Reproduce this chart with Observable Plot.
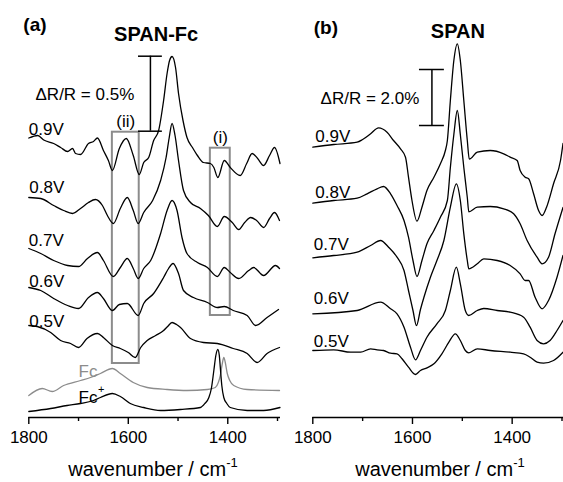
<!DOCTYPE html>
<html><head><meta charset="utf-8">
<script src="https://cdn.jsdelivr.net/npm/d3@7"></script>
<script src="https://cdn.jsdelivr.net/npm/@observablehq/plot@0.6"></script>
<style>
body{margin:0;background:#fff;font-family:"Liberation Sans",Arial,Helvetica,sans-serif;}
#wrap{position:relative;width:563px;height:482px;overflow:hidden;}
.panel{position:absolute;top:0;}
.xlabel{position:absolute;top:459px;width:300px;font-size:20px;line-height:20px;text-align:center;white-space:nowrap;color:#000;}
.xlabel span{position:relative;top:-9px;font-size:13px;}
</style></head><body>
<div id="wrap">
  <div id="pa" class="panel" style="left:0"></div>
  <div id="pb" class="panel" style="left:284px"></div>
  <div class="xlabel" style="left:3px">wavenumber / cm<span>-1</span></div>
  <div class="xlabel" style="left:290px">wavenumber / cm<span>-1</span></div>
</div>
<script>
// ---------- data (x: wavenumber / cm-1, y: stacked reflectance change, a.u.) ----------
const majorTicks = [1800, 1600, 1400];
const minorTicks = [1700, 1500, 1300];

// Panel (a) SPAN-Fc, 150 a.u. = 1 % dR/R
const a09 = [[1800,279.5],[1782,282],[1770,277.5],[1750,274],[1736,270],[1722,266],[1712,269],[1706,264],[1696,263],[1680,274],[1670,276],[1662,279.5],[1650,267],[1640,257],[1632,247],[1618,269],[1604,279],[1590,262],[1578,243],[1569,255],[1559,260],[1549,277],[1539,287],[1529,317],[1522,344],[1517,357],[1512,361],[1505,350],[1499,324],[1490,297],[1482,280],[1471,270],[1461,262],[1449,255],[1435,254],[1428,250],[1420,240],[1407,257],[1395,250],[1375,242],[1362,254],[1351,264],[1340,259],[1328,252],[1316,262],[1306,270],[1295,254]];
const a08 = [[1800,220],[1776,219],[1750,212],[1730,207],[1712,204],[1696,209],[1680,215],[1666,218],[1652,212],[1642,202],[1630,194],[1616,209],[1602,220],[1590,207],[1580,194],[1569,205],[1551,217],[1535,237],[1524,260],[1518,279],[1512,294],[1506,282],[1499,257],[1489,227],[1475,215],[1455,209],[1439,202],[1421,191],[1407,201],[1391,195],[1378,188],[1366,195],[1354,200],[1342,197],[1328,190],[1316,199],[1306,205],[1296,197]];
const a07 = [[1800,169],[1776,164],[1750,157],[1722,152],[1700,151],[1682,159],[1662,165],[1650,157],[1630,141],[1616,150],[1602,159],[1590,149],[1580,139],[1569,149],[1555,157],[1535,184],[1522,207],[1512,217],[1502,207],[1492,180],[1482,164],[1461,155],[1441,150],[1421,141],[1407,150],[1395,145],[1378,139],[1358,147],[1348,150],[1328,142],[1304,152],[1296,149]];
const a06 = [[1800,130],[1776,127],[1750,119],[1722,112],[1700,109],[1680,120],[1662,125],[1650,119],[1632,107],[1618,113],[1602,114],[1580,102],[1569,114],[1549,124],[1529,140],[1519,149],[1510,154],[1499,144],[1489,127],[1469,120],[1441,115],[1421,110],[1407,111],[1389,107],[1361,102],[1344,92],[1321,100],[1298,108]];
const a05 = [[1800,92],[1783,91],[1756,85],[1736,77],[1716,74],[1700,70],[1683,79],[1662,84],[1650,80],[1632,72],[1616,69],[1600,65],[1586,60],[1575,70],[1562,77],[1545,82],[1529,87],[1521,91],[1512,95],[1503,93],[1495,90],[1475,79],[1449,75],[1421,74],[1389,69],[1361,64],[1341,55],[1321,64],[1296,70]];
const aFc = [[1800,22],[1773,29],[1753,26],[1730,32],[1696,37],[1676,40],[1656,44],[1632,49],[1616,44],[1590,35],[1562,30],[1522,28],[1482,27],[1441,28],[1425,30],[1419,35],[1415,42],[1411,54],[1408,60],[1405,55],[1401,44],[1396,37],[1388,32],[1361,28],[1296,27]];
const aFcPlus = [[1800,6],[1756,9],[1723,12],[1696,14],[1670,17],[1656,20],[1632,24],[1616,21],[1596,14],[1569,10],[1535,7],[1495,8],[1455,10],[1446,14],[1438,20],[1433,29],[1428,47],[1424,62],[1420,68],[1417,62],[1415,50],[1412,32],[1408,20],[1402,14],[1395,10],[1361,7],[1328,7],[1295,10]];

// Panel (b) SPAN, 28 a.u. = 1 % dR/R
const b09 = [[1800,270.3],[1758,273],[1711,275.3],[1700,278],[1684,283.7],[1668,289.7],[1651,285.3],[1638,277],[1624,268.7],[1614,260.3],[1608,240.3],[1601,217],[1591,196.3],[1581,210.3],[1571,227],[1557,240.3],[1544,253.7],[1534,267],[1530,277],[1524,317],[1517,357],[1510,373.7],[1504,357],[1497,317],[1490,277],[1486,258.3],[1470,265.3],[1444,267],[1417,263.7],[1404,260.3],[1390,257],[1384,247],[1374,240.3],[1367,238.7],[1357,223.7],[1347,207],[1340,202],[1331,210.3],[1317,233.7],[1303,257],[1298,274]];
const b08 = [[1800,214.3],[1758,217],[1711,219.3],[1691,223.7],[1671,228.7],[1658,231],[1644,223.7],[1631,212],[1617,197],[1608,180.3],[1599,157],[1591,141],[1581,157],[1571,173.7],[1557,187],[1544,200.3],[1530,217],[1524,250],[1517,283],[1510,307],[1504,283],[1497,250],[1490,220],[1487,205.7],[1470,210.3],[1444,211],[1417,208.7],[1397,203.7],[1384,193.7],[1370,177],[1350,160.3],[1340,153.7],[1327,160.3],[1314,183.7],[1298,210]];
const b07 = [[1800,159.7],[1758,162],[1711,165.3],[1684,172],[1664,177],[1648,170.3],[1631,160.3],[1617,147],[1608,127],[1599,107],[1592,92],[1584,108],[1577,120.3],[1564,140.3],[1551,157],[1537,177],[1524,210.3],[1512,233.7],[1504,217],[1497,183.7],[1490,157],[1487,148.7],[1470,153.7],[1457,158.7],[1430,157],[1404,152],[1384,143.7],[1374,137],[1367,137],[1354,120.3],[1340,108.7],[1327,117],[1310,140.3],[1298,162]];
const b06 = [[1800,103.7],[1711,107],[1664,115.3],[1644,108.7],[1631,103.7],[1617,90.3],[1604,70.3],[1594,57.7],[1584,67],[1571,80.3],[1551,93.7],[1534,107],[1524,127],[1512,150.3],[1504,133.7],[1494,107],[1487,102],[1470,107],[1457,109],[1430,107],[1404,105.3],[1377,100.3],[1364,90.3],[1350,77],[1337,73.7],[1324,77],[1310,87],[1298,97]];
const b05 = [[1800,67],[1758,67.7],[1724,65.3],[1704,65.3],[1684,68.7],[1671,67.7],[1658,67],[1644,64.3],[1631,63.7],[1621,58.7],[1608,50.3],[1594,43],[1584,47],[1571,49.7],[1557,53.7],[1541,63.7],[1527,75.3],[1514,83.7],[1504,77],[1494,67],[1487,64.7],[1470,68.7],[1444,67],[1404,65.3],[1377,63.7],[1364,60.3],[1350,55.3],[1337,54.3],[1317,57],[1298,65.3]];

// scale bars: dR/R percent and a.u. per percent
const scaleA = {percent: 0.5, perPercent: 150};
const scaleB = {percent: 2.0, perPercent: 28};

// ---------- annotations ----------
const boxesA = [
  {x1: 1632, x2: 1578, y1: 54, y2: 285.3, name: "(ii)"},
  {x1: 1435, x2: 1395, y1: 102, y2: 269.3, name: "(i)"}
];
const barA = {x: 1555.5, y1: 286.3, half: 24};
const barB = {x: 1561, y1: 292, half: 25};

const voltLabelsA = [
  {x: 1800, y: 288.3, text: "0.9V"}, {x: 1799, y: 230.3, text: "0.8V"},
  {x: 1800, y: 176.5, text: "0.7V"}, {x: 1799, y: 136, text: "0.6V"},
  {x: 1799, y: 96, text: "0.5V"}
];
const voltLabelsB = [
  {x: 1795, y: 280.8, text: "0.9V"}, {x: 1795, y: 225.3, text: "0.8V"},
  {x: 1798, y: 172.5, text: "0.7V"}, {x: 1798, y: 119, text: "0.6V"},
  {x: 1798, y: 75.7, text: "0.5V"}
];

const F = "'Liberation Sans', Arial, Helvetica, sans-serif";
const GRAY = "#8c8c8c";

function baseMarks() {
  return [
    Plot.ruleY([0], {stroke: "black", strokeWidth: 1.5}),
    Plot.axisX({ticks: majorTicks, tickSize: 7, tickPadding: 6, fontSize: 17, tickFormat: d => String(d), strokeWidth: 1.4, label: null}),
    Plot.axisX({ticks: minorTicks, tickSize: 4, tickFormat: () => "", strokeWidth: 1.4, label: null})
  ];
}
const line = (d, stroke = "black") => Plot.line(d, {x: p => p[0], y: p => p[1], stroke, strokeWidth: 1.3, curve: "monotone-x"});
function scaleBar(bar, sc) {
  const y2 = bar.y1 + sc.percent * sc.perPercent;
  return [
    Plot.ruleX([bar], {x: "x", y1: "y1", y2: () => y2, stroke: "black", strokeWidth: 1.5}),
    Plot.ruleY([bar.y1, y2], {y: d => d, x1: () => bar.x + bar.half, x2: () => bar.x - bar.half, stroke: "black", strokeWidth: 1.5})
  ];
}

const common = {height: 450, marginTop: 0, marginBottom: 33,
  y: {domain: [0, 417], axis: null},
  style: {fontFamily: F, fontSize: "17px", color: "black", background: "white", overflow: "visible"}};

const plotA = Plot.plot({
  ...common, width: 290, marginLeft: 28.3, marginRight: 10,
  x: {domain: [1800, 1294], label: null},
  marks: [
    ...baseMarks(),
    Plot.rect(boxesA, {x1: "x1", x2: "x2", y1: "y1", y2: "y2", fill: "none", stroke: GRAY, strokeWidth: 2}),
    line(aFc, GRAY), line(aFcPlus), line(a05), line(a06), line(a07), line(a08), line(a09),
    ...scaleBar(barA, scaleA),
    Plot.text(voltLabelsA, {x: "x", y: "y", text: "text", textAnchor: "start", fontSize: 17}),
    Plot.text(boxesA, {x: d => (d.x1 + d.x2) / 2, y: d => d.y2 + 10.5, text: "name", fontSize: 17}),
    Plot.text([`ΔR/R = ${scaleA.percent.toFixed(1)}%`], {x: () => 1786.5, y: () => 322.8, text: d => d, textAnchor: "start", fontSize: 17}),
    Plot.text(["(a)"], {x: () => 1811, y: () => 393, text: d => d, textAnchor: "start", fontSize: 19, fontWeight: "bold"}),
    Plot.text(["SPAN-Fc"], {x: () => 1544, y: () => 383, text: d => d, fontSize: 20, fontWeight: "bold"}),
    Plot.text(["Fc"], {x: () => 1700, y: () => 46, text: d => d, textAnchor: "start", fontSize: 17, fill: GRAY}),
    Plot.text(["Fc"], {x: () => 1700, y: () => 20.3, text: d => d, textAnchor: "start", fontSize: 17}),
    Plot.text(["+"], {x: () => 1661, y: () => 28, text: d => d, textAnchor: "start", fontSize: 11})
  ]
});

const plotB = Plot.plot({
  ...common, width: 279, marginLeft: 28.3, marginRight: 0,
  x: {domain: [1800, 1297], label: null},
  marks: [
    ...baseMarks(),
    line(b05), line(b06), line(b07), line(b08), line(b09),
    ...scaleBar(barB, scaleB),
    Plot.text(voltLabelsB, {x: "x", y: "y", text: "text", textAnchor: "start", fontSize: 17}),
    Plot.text([`ΔR/R = ${scaleB.percent.toFixed(1)}%`], {x: () => 1784.5, y: () => 318.7, text: d => d, textAnchor: "start", fontSize: 17}),
    Plot.text(["(b)"], {x: () => 1798, y: () => 390, text: d => d, textAnchor: "start", fontSize: 19, fontWeight: "bold"}),
    Plot.text(["SPAN"], {x: () => 1509, y: () => 386, text: d => d, fontSize: 20, fontWeight: "bold"})
  ]
});

document.getElementById("pa").appendChild(plotA);
document.getElementById("pb").appendChild(plotB);
</script>
</body></html>
